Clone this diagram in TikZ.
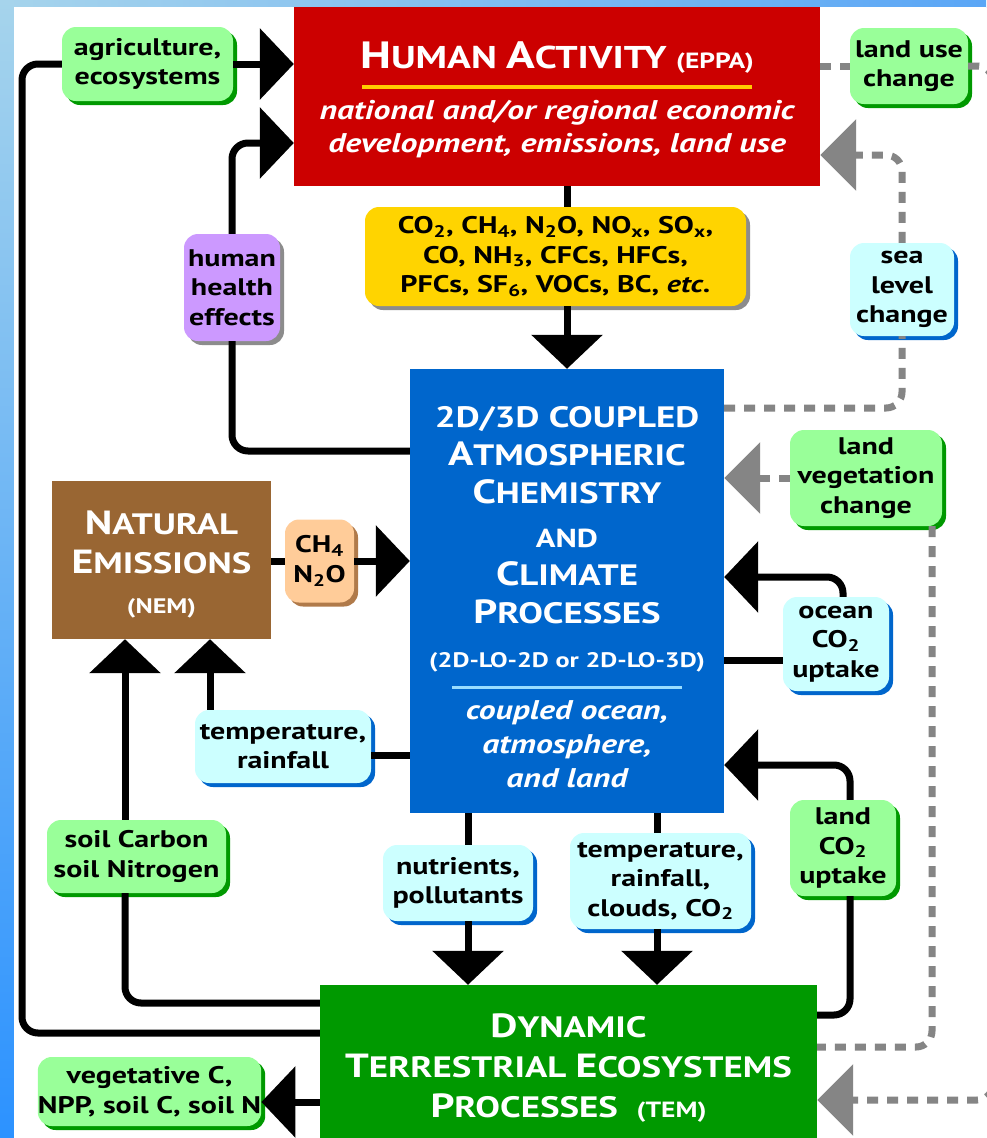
\documentclass[tikz,border=0pt]{standalone}
\usepackage{fontspec}
\setmainfont{PT Sans}[FakeStretch=1.25]
\usetikzlibrary{arrows.meta,shadows}
\definecolor{hared}{HTML}{CC0000}
\definecolor{gasyel}{HTML}{FFD400}
\definecolor{climblue}{HTML}{0066CC}
\definecolor{nembrown}{HTML}{996633}
\definecolor{peach}{HTML}{FFCC99}
\definecolor{peachsh}{HTML}{B07A4A}
\definecolor{temgreen}{HTML}{009900}
\definecolor{lgreen}{HTML}{99FF99}
\definecolor{lcyan}{HTML}{CCFFFF}
\definecolor{lpurple}{HTML}{CC99FF}
\definecolor{dgray}{HTML}{858585}
\definecolor{shgray}{HTML}{8C8C8C}
\definecolor{lineyel}{HTML}{FFCC00}
\definecolor{linecyan}{HTML}{99DDFF}
\definecolor{bglight}{HTML}{A6D4EC}
\definecolor{bgdark}{HTML}{2C92FF}
\definecolor{bgmid}{HTML}{5AA6F6}
\newcommand\lblfont{\fontsize{24}{29.5}\selectfont\bfseries}
\newcommand\capA[1]{{\fontsize{33.5}{38}\selectfont #1}}
\newcommand\capH[1]{{\fontsize{38}{44}\selectfont #1}}
\begin{document}
\begin{tikzpicture}[x=1pt,y=-1pt,
  conn/.style={line width=7pt, black, rounded corners=16pt},
  arr/.style={conn, -{Triangle[width=70pt,length=34pt]}},
  dashln/.style={line width=7pt, dgray, dash pattern=on 11pt off 9pt, rounded corners=16pt},
  dasharr/.style={dashln, -{Triangle[width=70pt,length=36pt]}},
  lbl/.style={rounded corners=14pt, inner sep=0pt, align=center, font=\lblfont, text=black},
  glbl/.style={lbl, fill=lgreen, drop shadow={shadow xshift=4pt, shadow yshift=-4pt, fill=temgreen, opacity=1}},
  clbl/.style={lbl, fill=lcyan, drop shadow={shadow xshift=4pt, shadow yshift=-4pt, fill=climblue, opacity=1}},
  plbl/.style={lbl, fill=lpurple, drop shadow={shadow xshift=4pt, shadow yshift=-4pt, fill=shgray, opacity=1}},
  ylbl/.style={lbl, fill=gasyel, drop shadow={shadow xshift=4pt, shadow yshift=-4pt, fill=shgray, opacity=1}},
  olbl/.style={lbl, fill=peach, drop shadow={shadow xshift=4pt, shadow yshift=-4pt, fill=peachsh, opacity=1}},
  bigbox/.style={inner sep=0pt, draw=none},
  wtxt/.style={text=white, anchor=base, inner sep=0pt, font=\fontsize{29.5}{38}\selectfont\bfseries},
  witxt/.style={text=white, anchor=base, inner sep=0pt, font=\fontsize{27}{30}\selectfont\bfseries\itshape},
]
\useasboundingbox (0,0) rectangle (986,1138);
% background frame
\fill[left color=bglight, right color=bgmid] (0,0) rectangle (986,7);
\fill[top color=bglight, bottom color=bgdark] (0,0) rectangle (14,1138);
\fill[white] (14,7) rectangle (986,1138);

% main boxes
\node[bigbox, fill=hared, minimum width=526pt, minimum height=179pt] (ha) at (557,96.5) {};
\node[bigbox, fill=climblue, minimum width=314pt, minimum height=444pt] (clim) at (567,591) {};
\node[bigbox, fill=nembrown, minimum width=219pt, minimum height=158pt] (nem) at (161.5,560) {};
\node[bigbox, fill=temgreen, minimum width=497pt, minimum height=160pt] (tem) at (568.5,1065) {};

% human activity texts
\node[wtxt] (hat) at (557,68) {\capH{H}{\fontsize{31.5}{38}\selectfont UMAN} \capH{A}{\fontsize{31.5}{38}\selectfont CTIVITY} {\fontsize{22}{28}\selectfont (EPPA)}};
\draw[line width=4pt, lineyel] (362,87) -- (752,87);
\node[witxt] (ha1) at (557,119) {national and/or regional economic};
\node[witxt] (ha2) at (557,152) {development, emissions, land use};

% climate texts
\node[wtxt] (c1) at (567,427) {2D/3D COUPLED};
\node[wtxt] (c2) at (567,465) {\capA{A}TMOSPHERIC};
\node[wtxt] (c3) at (567,503) {\capA{C}HEMISTRY};
\node[wtxt, font=\fontsize{26}{30}\selectfont\bfseries] (c4) at (567,547) {AND};
\node[wtxt] (c5) at (567,585) {\capA{C}LIMATE};
\node[wtxt] (c6) at (567,623) {\capA{P}ROCESSES};
\node[wtxt, font=\fontsize{21}{26}\selectfont\bfseries] (c7) at (567,667) {(2D-LO-2D or 2D-LO-3D)};
\draw[line width=3pt, linecyan] (452,687) -- (682,687);
\node[witxt] (c8) at (567,719) {coupled ocean,};
\node[witxt] (c9) at (567,753) {atmosphere,};
\node[witxt] (c10) at (567,787) {and land};

% NEM texts
\node[wtxt] (n1) at (161.5,534) {\capA{N}ATURAL};
\node[wtxt] (n2) at (161.5,573) {\capA{E}MISSIONS};
\node[wtxt, font=\fontsize{21}{26}\selectfont\bfseries] (n3) at (161.5,613) {(NEM)};

% TEM texts
\node[wtxt] (t1) at (568.5,1037) {\capA{D}YNAMIC};
\node[wtxt] (t2) at (568.5,1077) {\capA{T}ERRESTRIAL \capA{E}COSYSTEMS};
\node[wtxt] (t3) at (568.5,1117) {\capA{P}ROCESSES\ \ {\fontsize{22}{28}\selectfont (TEM)}};

% label boxes
\node[glbl, minimum width=171pt, minimum height=74pt] (agri) at (147.5,64) {agriculture,\\ecosystems};
\node[plbl, minimum width=96pt, minimum height=107pt] (hh) at (232,287.5) {human\\health\\effects};
\node[glbl, minimum width=118pt, minimum height=76pt] (landuse) at (909,66) {land use\\change};
\node[clbl, minimum width=104pt, minimum height=93pt] (sea) at (902,289.5) {sea\\level\\change};
\node[ylbl, minimum width=381pt, minimum height=99pt] (gas) at (555.5,256.5)
  {CO\textsubscript{2}, CH\textsubscript{4}, N\textsubscript{2}O, NO\textsubscript{x}, SO\textsubscript{x},\\
   CO, NH\textsubscript{3}, CFCs, HFCs,\\ PFCs, SF\textsubscript{6}, VOCs, BC, \textit{etc.}};
\node[olbl, minimum width=69pt, minimum height=83pt] (ch4) at (319.5,561) {CH\textsubscript{4}\\N\textsubscript{2}O};
\node[glbl, minimum width=152pt, minimum height=96pt] (landveg) at (866,478) {land\\vegetation\\change};
\node[clbl, minimum width=106pt, minimum height=94pt] (ocean) at (836,644) {ocean\\CO\textsubscript{2}\\uptake};
\node[glbl, minimum width=106pt, minimum height=96pt] (landco2) at (843,848) {land\\CO\textsubscript{2}\\uptake};
\node[clbl, minimum width=176pt, minimum height=73pt] (temprain) at (283,746.5) {temperature,\\rainfall};
\node[glbl, minimum width=179pt, minimum height=73pt] (soil) at (136.5,856.5) {soil Carbon\\soil Nitrogen};
\node[glbl, minimum width=223pt, minimum height=69pt] (veg) at (149.5,1091.5) {vegetative C,\\NPP, soil C, soil N};
\node[clbl, minimum width=150pt, minimum height=76pt] (nutr) at (458,883) {nutrients,\\pollutants};
\node[clbl, minimum width=181pt, minimum height=96pt] (trcc) at (660.5,881) {temperature,\\rainfall,\\clouds, CO\textsubscript{2}};

% helper coordinates
\coordinate (sx) at (125,0);
\coordinate (nx) at (468,0);
\coordinate (tx) at (657,0);
\coordinate (vx) at (932,0);
\coordinate (rx) at (993,600);

% solid connectors
\draw[conn] ([yshift=32pt]tem.west) -| (22,64) -- (agri.west);
\draw[arr] (agri.east) -- (agri.east -| ha.west);
\draw[conn] ([yshift=140pt]clim.west) -| (hh.south);
\draw[arr] (hh.north) |- ([yshift=-46.5pt]ha.west);
\draw[conn] (clim.south |- ha.south) -- (clim.south |- gas.north);
\draw[arr] (clim.south |- gas.south) -- (clim.north);
\draw[conn] (nem.east |- ch4.west) -- (ch4.west);
\draw[arr] (ch4.east) -- (ch4.east -| clim.west);
\draw[conn] ([yshift=-9pt]temprain.east -| clim.west) -- ([yshift=-9pt]temprain.east);
\draw[arr] ([xshift=-73pt]temprain.north) -- ([xshift=-73pt]temprain.north |- nem.south);
\draw[conn] ([yshift=62pt]tem.west) -| (sx |- soil.south);
\draw[arr] (sx |- soil.north) -- (sx |- nem.south);
\draw[arr] ([yshift=-37pt]tem.west) -- ([yshift=-37pt]tem.west -| veg.east);
\draw[conn] (nx |- clim.south) -- (nx |- nutr.north);
\draw[arr] (nx |- nutr.south) -- (nx |- tem.north);
\draw[conn] (tx |- clim.south) -- (tx |- trcc.north);
\draw[arr] (tx |- trcc.south) -- (tx |- tem.north);
\draw[conn] ([yshift=-16pt]ocean.west -| clim.east) -- ([yshift=-16pt]ocean.west);
\draw[arr] ([xshift=7pt]ocean.north) |- ([yshift=14pt]clim.east);
\draw[conn] ([yshift=50pt]tem.east) -| ([xshift=7pt]landco2.south);
\draw[arr] ([xshift=7pt]landco2.north) |- ([yshift=-174pt]clim.east);

% dashed connectors
\draw[dashln] ([yshift=183pt]clim.east) -| (sea.south);
\draw[dasharr] (sea.north) |- ([yshift=-58.5pt]ha.east);
\draw[dashln] (landuse.west -| ha.east) -- (landuse.west);
\draw[dasharr] (landuse.east) -| (rx) |- ([yshift=-35pt]tem.east);
\draw[dasharr] (landveg.west) -- (landveg.west -| clim.east);
\draw[dashln] (vx |- landveg.south) |- ([yshift=18pt]tem.east);
\end{tikzpicture}
\end{document}
